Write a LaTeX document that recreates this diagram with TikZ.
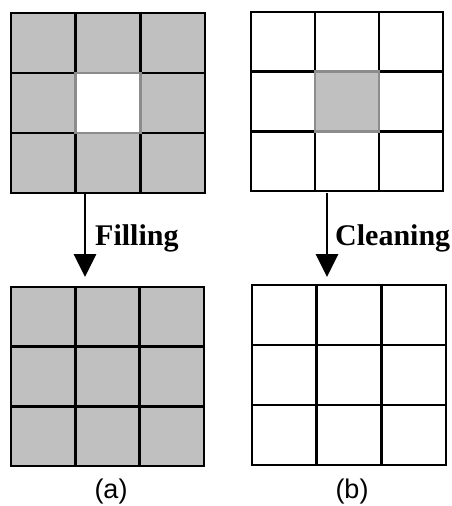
\documentclass[tikz,border=0pt]{standalone}
\usepackage{fontspec}
\setmainfont{Liberation Serif}
\newfontfamily\labsans{Liberation Sans}
\usetikzlibrary{arrows.meta}
\definecolor{cellgray}{HTML}{C0C0C0}
\definecolor{edgegray}{HTML}{8C8C8C}
\tikzset{
  cell/.style={draw=black, line width=2.8pt, rectangle, inner sep=0pt, outer sep=0pt},
  centercell/.style={draw=edgegray, line width=2.6pt},
  arr/.style={line width=2.8pt, -{Triangle[width=22pt,length=23pt]}},
  steplabel/.style={font=\fontsize{30}{30}\selectfont\bfseries, anchor=base west, inner sep=0pt},
  caplabel/.style={font=\labsans\fontsize{27}{27}\selectfont, anchor=base, inner sep=0pt}
}
\newcommand{\makegrid}[6]{%
  \foreach \i in {1,2,3}{\foreach \j in {1,2,3}{%
    \node[cell, fill=#6, minimum width=#4pt, minimum height=#5pt] (#1-\i\j) at ({#2+(\i-0.5)*#4},{#3+(\j-0.5)*#5}) {};
  }}%
}
\begin{document}
\begin{tikzpicture}[x=1pt,y=-1pt]
\useasboundingbox[fill=white] (0,0) rectangle (452,506);
% top left grid (before filling)
\makegrid{ta}{11}{13}{64.67}{60}{cellgray}
\filldraw[centercell, fill=white] (ta-22.north west) rectangle (ta-22.south east);
% top right grid (before cleaning)
\makegrid{tb}{251}{12}{64}{59.67}{white}
\filldraw[centercell, fill=cellgray] (tb-22.north west) rectangle (tb-22.south east);
% bottom grids
\makegrid{ba}{11}{287}{64.33}{59.67}{cellgray}
\makegrid{bb}{252}{285}{64.67}{60}{white}
% arrows
\coordinate (fa1) at (85,194);
\coordinate (fa2) at (85,277);
\coordinate (cb1) at (327,193);
\coordinate (cb2) at (327,277);
\draw[arr] (fa1) -- (fa2);
\draw[arr] (cb1) -- (cb2);
\node[steplabel] (fill) at (95,245) {Filling};
\node[steplabel] (clean) at (335,245) {Cleaning};
% captions
\node[caplabel] (capa) at (111,498) {(a)};
\node[caplabel] (capb) at (352,498) {(b)};
\end{tikzpicture}
\end{document}
